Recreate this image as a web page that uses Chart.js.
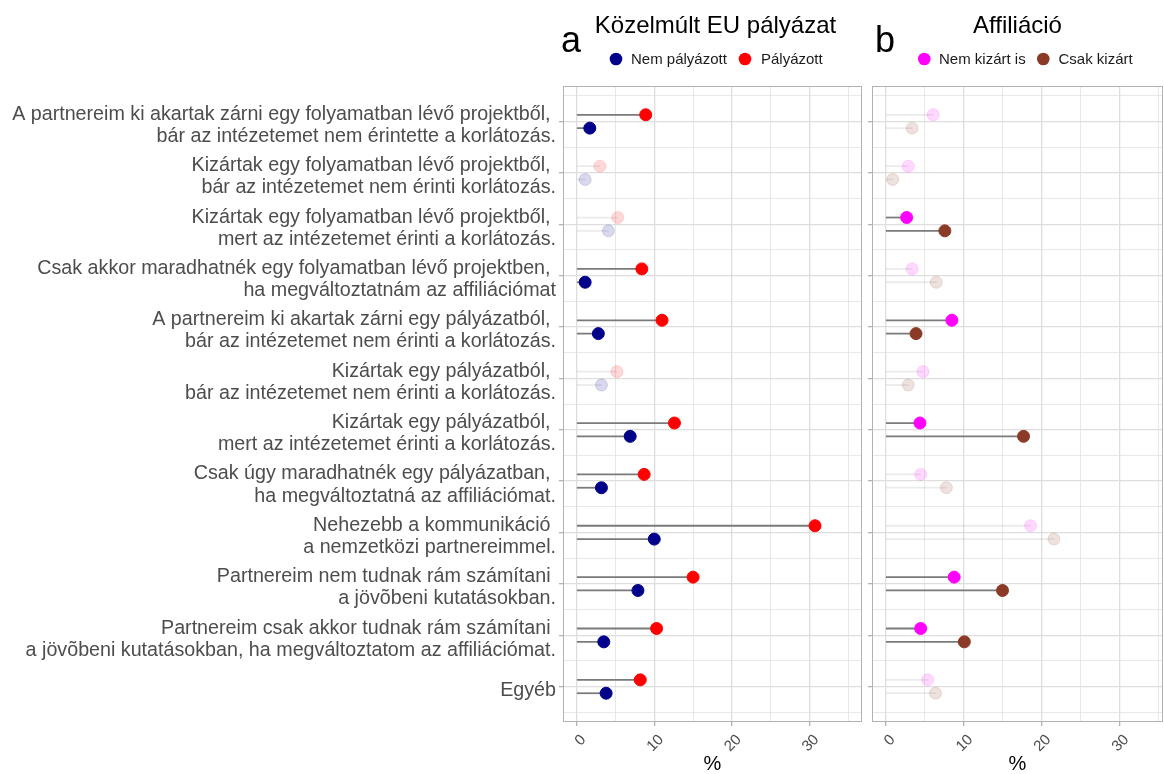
<!DOCTYPE html>
<html><head><meta charset="utf-8">
<script src="https://cdn.jsdelivr.net/npm/chart.js@4.4.1/dist/chart.umd.min.js"></script>
<style>
html,body{margin:0;padding:0;background:#fff;overflow:hidden;width:1164px;height:774px;}
#ca{position:absolute;left:0;top:0;}
#cb{position:absolute;left:866px;top:0;}
</style></head><body>
<canvas id="ca" width="866" height="774"></canvas>
<canvas id="cb" width="298" height="774"></canvas>
<script>
// ---------- data ----------
const categories = [
  ['A partnereim ki akartak zárni egy folyamatban lévő projektből, ', 'bár az intézetemet nem érintette a korlátozás.'],
  ['Kizártak egy folyamatban lévő projektből, ', 'bár az intézetemet nem érinti korlátozás.'],
  ['Kizártak egy folyamatban lévő projektből, ', 'mert az intézetemet érinti a korlátozás.'],
  ['Csak akkor maradhatnék egy folyamatban lévő projektben, ', 'ha megváltoztatnám az affiliációmat'],
  ['A partnereim ki akartak zárni egy pályázatból, ', 'bár az intézetemet nem érinti a korlátozás.'],
  ['Kizártak egy pályázatból, ', 'bár az intézetemet nem érinti a korlátozás.'],
  ['Kizártak egy pályázatból, ', 'mert az intézetemet érinti a korlátozás.'],
  ['Csak úgy maradhatnék egy pályázatban, ', 'ha megváltoztatná az affiliációmat.'],
  ['Nehezebb a kommunikáció ', 'a nemzetközi partnereimmel.'],
  ['Partnereim nem tudnak rám számítani ', 'a jövõbeni kutatásokban.'],
  ['Partnereim csak akkor tudnak rám számítani ', 'a jövõbeni kutatásokban, ha megváltoztatom az affiliációmat.'],
  'Egyéb'
];
// Panel a: Közelmúlt EU pályázat
const aPalyazott    = [8.9, 3.0, 5.3, 8.4, 11.0, 5.2, 12.6, 8.7, 30.7, 15.0, 10.3, 8.2];
const aNemPalyazott = [1.7, 1.1, 4.1, 1.1, 2.8, 3.2, 6.9, 3.2, 10.0, 7.9, 3.5, 3.8];
const aSignificant  = [true, false, false, true, true, false, true, true, true, true, true, true];
// Panel b: Affiliáció
const bNemKizart    = [6.1, 2.9, 2.7, 3.4, 8.5, 4.8, 4.4, 4.5, 18.6, 8.8, 4.5, 5.4];
const bCsakKizart   = [3.4, 0.9, 7.6, 6.5, 3.9, 2.9, 17.7, 7.8, 21.6, 15.0, 10.1, 6.4];
const bSignificant  = [false, false, true, false, true, false, true, false, false, true, true, false];
// axis ticks
const xMajorTicks = [0, 10, 20, 30];
const xMinorTicks = [5, 15, 25, 35];

// ---------- styling ----------
Chart.defaults.font.family = "'Liberation Sans', Arial, sans-serif";
const FADE = 0.15;
const OFF = 0.13;
const GRID = '#DEDEDE', FRAME = '#B3B3B3', AXTXT = '#4D4D4D';
function rgba(hex, a){ const n = parseInt(hex.slice(1),16); return `rgba(${(n>>16)&255},${(n>>8)&255},${n&255},${a})`; }

const decor = {
  id: 'decor',
  beforeDatasetsDraw(chart, args, o) {
    const {ctx, chartArea: a} = chart;
    ctx.save();
    ctx.strokeStyle = FRAME; ctx.lineWidth = 1;
    ctx.strokeRect(Math.round(a.left) + 0.5, Math.round(a.top) + 0.5,
                   Math.round(a.right - a.left) - 1, Math.round(a.bottom - a.top) - 1);
    ctx.restore();
  },
  afterDraw(chart, args, o) {
    const {ctx, chartArea: a} = chart;
    ctx.save();
    ctx.fillStyle = '#000';
    ctx.textBaseline = 'alphabetic';
    ctx.font = "24px 'Liberation Sans', Arial, sans-serif";
    ctx.textAlign = 'center';
    ctx.fillText(o.title, (a.left + a.right) / 2 + o.titleShift, 33);
    ctx.font = "36px 'Liberation Sans', Arial, sans-serif";
    ctx.textAlign = 'left';
    ctx.fillText(o.tag, o.tagX, 52);
    ctx.font = "15px 'Liberation Sans', Arial, sans-serif";
    ctx.textBaseline = 'middle';
    o.legend.forEach(it => {
      ctx.fillStyle = it.color;
      ctx.beginPath(); ctx.arc(it.dotX, 59, 6.3, 0, Math.PI * 2); ctx.fill();
      ctx.fillStyle = '#1A1A1A';
      ctx.fillText(it.label, it.textX, 59.5);
    });
    ctx.restore();
  }
};

function panel(canvasId, o) {
  const fadeArr = (sig, col) => sig.map(s => s ? col : rgba(col, FADE));
  const segCol = o.sig.map(s => s ? '#7A7A7A' : 'rgba(122,122,122,0.15)');
  const segDs = (vals, off) => ({
    type: 'bar', indexAxis: 'y', grouped: false,
    data: vals.map((v, i) => ({y: i + 1 + off, x: [0, v]})),
    backgroundColor: segCol, borderWidth: 0,
    barThickness: 1.1, maxBarThickness: 1.1, order: 2
  });
  const ptDs = (label, vals, off, col) => ({
    type: 'scatter', label,
    data: vals.map((v, i) => ({x: v, y: i + 1 + off})),
    pointRadius: 6, pointBorderWidth: 1,
    pointBackgroundColor: fadeArr(o.sig, col),
    pointBorderColor: fadeArr(o.sig, col),
    order: 1
  });
  return new Chart(document.getElementById(canvasId), {
    type: 'scatter',
    data: {
      datasets: [
        segDs(o.upper, -OFF), segDs(o.lower, OFF),
        ptDs(o.upperLabel, o.upper, -OFF, o.upperColor),
        ptDs(o.lowerLabel, o.lower, OFF, o.lowerColor)
      ]
    },
    options: {
      responsive: false, animation: false, events: [],
      layout: {autoPadding: false, padding: {top: 86, right: o.padRight, bottom: 0, left: 0}},
      plugins: {
        legend: {display: false}, tooltip: {enabled: false},
        decor: {title: o.title, titleShift: o.titleShift, tag: o.tag, tagX: o.tagX, legend: o.legend}
      },
      scales: {
        x: {
          type: 'linear', min: -1.75, max: o.xMax, offset: false,
          afterBuildTicks: s => { s.ticks = xMajorTicks.concat(xMinorTicks).filter(v => v <= s.max).sort((p, q) => p - q).map(v => ({value: v})); },
          afterFit: s => { s.height = 52; s.paddingLeft = 0; s.paddingRight = 0; },
          border: {display: false},
          grid: {
            color: GRID,
            lineWidth: c => (c.tick && xMajorTicks.includes(c.tick.value)) ? 1.3 : 0.7,
            tickLength: 4,
            tickColor: c => (c.tick && xMajorTicks.includes(c.tick.value)) ? FRAME : 'rgba(0,0,0,0)'
          },
          ticks: {
            autoSkip: false, minRotation: 45, maxRotation: 45, color: AXTXT,
            font: {size: 15}, padding: 5, labelOffset: 7,
            callback: v => xMajorTicks.includes(v) ? String(v) : ''
          },
          title: {display: true, text: '%', color: '#000', font: {size: 20, lineHeight: 1}, padding: {top: 0, bottom: 0}}
        },
        y: {
          type: 'linear', min: 0.31, max: 12.69, reverse: true, offset: false,
          afterBuildTicks: s => { const t = []; for (let k = 0.5; k <= 12.5; k += 0.5) t.push({value: k}); s.ticks = t; },
          afterFit: s => { s.width = o.yWidth; s.paddingTop = 0; s.paddingBottom = 0; },
          border: {display: false},
          grid: {
            offset: false, color: GRID,
            lineWidth: c => (c.tick && Number.isInteger(c.tick.value)) ? 1.3 : 0.7,
            tickLength: 4,
            tickColor: c => (c.tick && Number.isInteger(c.tick.value)) ? FRAME : 'rgba(0,0,0,0)'
          },
          ticks: {
            display: o.showLabels, autoSkip: false, color: AXTXT, padding: 3, labelOffset: 4,
            font: {size: 19.7, lineHeight: 1.12},
            callback: v => Number.isInteger(v) ? categories[v - 1] : ''
          }
        }
      }
    },
    plugins: [decor]
  });
}

panel('ca', {
  upper: aPalyazott, lower: aNemPalyazott, sig: aSignificant,
  upperLabel: 'Pályázott', lowerLabel: 'Nem pályázott',
  upperColor: '#FF0000', lowerColor: '#00008B',
  xMax: 36.75, yWidth: 563, padRight: 4, showLabels: true,
  title: 'Közelmúlt EU pályázat', titleShift: 3, tag: 'a', tagX: 561,
  legend: [
    {color: '#00008B', label: 'Nem pályázott', dotX: 616, textX: 631},
    {color: '#FF0000', label: 'Pályázott', dotX: 745, textX: 761}
  ]
});
panel('cb', {
  upper: bNemKizart, lower: bCsakKizart, sig: bSignificant,
  upperLabel: 'Nem kizárt is', lowerLabel: 'Csak kizárt',
  upperColor: '#FF00FF', lowerColor: '#8C3A28',
  xMax: 35.6, yWidth: 6, padRight: 1, showLabels: false,
  title: 'Affiliáció', titleShift: 0, tag: 'b', tagX: 9,
  legend: [
    {color: '#FF00FF', label: 'Nem kizárt is', dotX: 58.3, textX: 73},
    {color: '#8C3A28', label: 'Csak kizárt', dotX: 177.3, textX: 192.5}
  ]
});
</script>
</body></html>
